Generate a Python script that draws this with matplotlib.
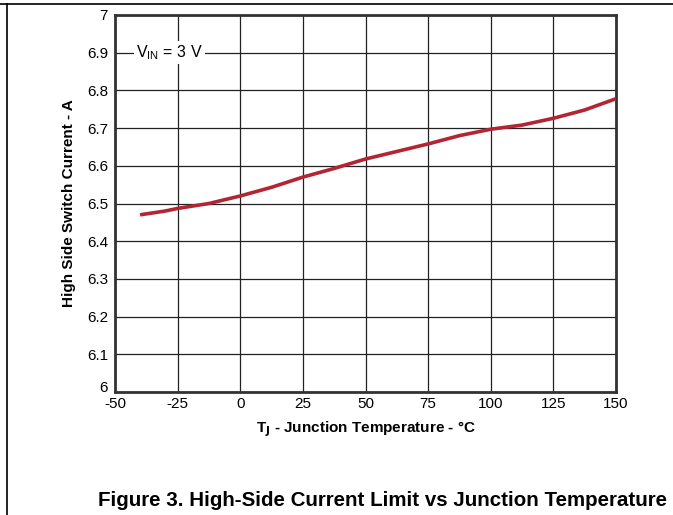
import matplotlib
matplotlib.use("Agg")
import matplotlib.pyplot as plt
import matplotlib.transforms as mtransforms
from matplotlib.lines import Line2D

# ============================================================
# Data
# ============================================================

TEMP_C = [-40, -30, -25, -12.5, 0, 12.5, 25, 37.5, 50, 62.5, 75, 87.5, 100, 112.5, 125, 137.5, 150]
CURRENT_A = [6.470, 6.480, 6.487, 6.500, 6.520, 6.543, 6.570, 6.593, 6.618, 6.638, 6.658,
             6.680, 6.697, 6.708, 6.726, 6.748, 6.778]

X_TICKS = [-50, -25, 0, 25, 50, 75, 100, 125, 150]
Y_TICKS = [6.0, 6.1, 6.2, 6.3, 6.4, 6.5, 6.6, 6.7, 6.8, 6.9, 7.0]
Y_TICK_LABELS = ["6", "6.1", "6.2", "6.3", "6.4", "6.5", "6.6", "6.7", "6.8", "6.9", "7"]

plt.rcParams["font.family"] = ["Liberation Sans", "DejaVu Sans"]

fig = plt.figure(figsize=(6.73, 5.15), dpi=100)
ax = fig.add_axes([0.1709, 0.2388, 0.7444, 0.7321])

ax.plot(TEMP_C, CURRENT_A, color="#b22533", linewidth=2.6, solid_capstyle="butt", zorder=3)

ax.set_xlim(-50, 150)
ax.set_ylim(6.0, 7.0)
ax.set_xticks(X_TICKS)
ax.set_xticklabels([str(t) for t in X_TICKS])
ax.set_yticks(Y_TICKS)
ax.set_yticklabels(Y_TICK_LABELS)
ax.tick_params(length=0, labelsize=11)
ax.tick_params(axis="x", pad=3.5)
ax.tick_params(axis="y", pad=5)
ax.grid(True, color="#222222", linewidth=0.9)
for s in ax.spines.values():
    s.set_linewidth(2.0)
    s.set_color("#333333")

# bottom "6" sits a bit above the axis, like the reference
lbl6 = ax.get_yticklabels()[0]
lbl6.set_transform(lbl6.get_transform() + mtransforms.ScaledTranslation(0, 4 / 72, fig.dpi_scale_trans))

ax.set_xlabel(r"T$_\mathbf{J}$ - Junction Temperature - °C", fontsize=11, fontweight="bold", labelpad=6)
ax.set_ylabel("High Side Switch Current - A", fontsize=11, fontweight="bold", labelpad=8)

ax.text(-41.5, 6.9, r"V$_\mathregular{IN}$ = 3 V", fontsize=11.5, va="center", ha="left",
        bbox=dict(facecolor="white", edgecolor="none", pad=1.5), zorder=4)

fig.text(0.568, 0.029, "Figure 3. High-Side Current Limit vs Junction Temperature",
         fontsize=14.8, fontweight="bold", ha="center", va="center")

# page frame lines
fig.add_artist(Line2D([0, 1], [0.992, 0.992], color="black", linewidth=1.2, transform=fig.transFigure))
fig.add_artist(Line2D([0.0104, 0.0104], [0, 0.992], color="black", linewidth=1.2, transform=fig.transFigure))

fig.savefig("out.png", dpi=100)
